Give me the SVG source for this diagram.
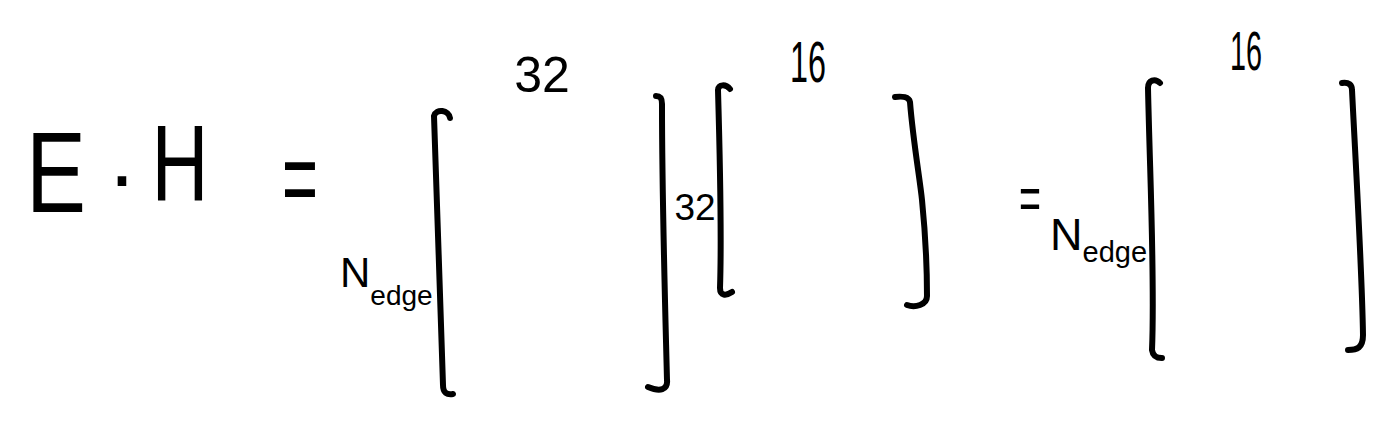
<svg xmlns="http://www.w3.org/2000/svg" width="1388" height="422" viewBox="0 0 1388 422">
<style>
.ink{fill:none;stroke:#000;stroke-width:6;stroke-linecap:round;stroke-linejoin:round}
.t{font-family:"Liberation Sans",Arial,sans-serif;fill:#000}
.m{text-anchor:middle}
</style>
<rect width="1388" height="422" fill="#fff"/>
<g id="lhs">
<text class="t m" x="56" y="212" font-size="115" textLength="60" lengthAdjust="spacingAndGlyphs">E</text>
<text class="t m" x="122" y="206" font-size="90">·</text>
<text class="t m" x="180" y="200" font-size="108" textLength="57" lengthAdjust="spacingAndGlyphs">H</text>
<text class="t m" x="300" y="215" font-size="107" textLength="36" lengthAdjust="spacingAndGlyphs">=</text>
</g>
<g id="matrix-a">
<path class="ink" d="M450,118 C449,110 436,108 434,116 C436,200 441,300 443,385 C443,393 447,395 453,394"/>
<path class="ink" d="M656,96 C661,96 662,99 662,104 C662,200 665,300 667,380 C668,390 660,392 648,387"/>
<text class="t m" x="542" y="92" font-size="50">32</text>
<text class="t" x="340" y="287" font-size="42">N<tspan font-size="28" dy="18">edge</tspan></text>
</g>
<g id="matrix-b">
<path class="ink" d="M730,89 C726,84 718,84 718,90 C720,160 722,230 720,288 C720,296 726,296 732,292"/>
<path class="ink" d="M895,97 C902,96 909,97 910,102 C913,140 920,180 922,200 C926,240 927,270 927,296 C927,305 915,308 907,305"/>
<text class="t m" x="695" y="220" font-size="37">32</text>
<text class="t m" x="808" y="82" font-size="58" textLength="36" lengthAdjust="spacingAndGlyphs">16</text>
</g>
<g id="equals-2">
<text class="t" x="1041" y="219" font-size="62" text-anchor="end" textLength="22" lengthAdjust="spacingAndGlyphs">=</text>
</g>
<g id="matrix-c">
<path class="ink" d="M1160,83 C1155,78 1148,80 1148,88 C1150,180 1155,280 1152,350 C1153,357 1157,358 1162,358"/>
<path class="ink" d="M1342,83 C1349,82 1352,85 1352,90 C1356,170 1362,270 1363,335 C1363,348 1357,350 1348,350"/>
<text class="t m" x="1246" y="70" font-size="56" textLength="32" lengthAdjust="spacingAndGlyphs">16</text>
<text class="t" x="1050" y="250" font-size="45">N<tspan font-size="29" dy="12">edge</tspan></text>
</g>
<g id="connectors"/>
</svg>
